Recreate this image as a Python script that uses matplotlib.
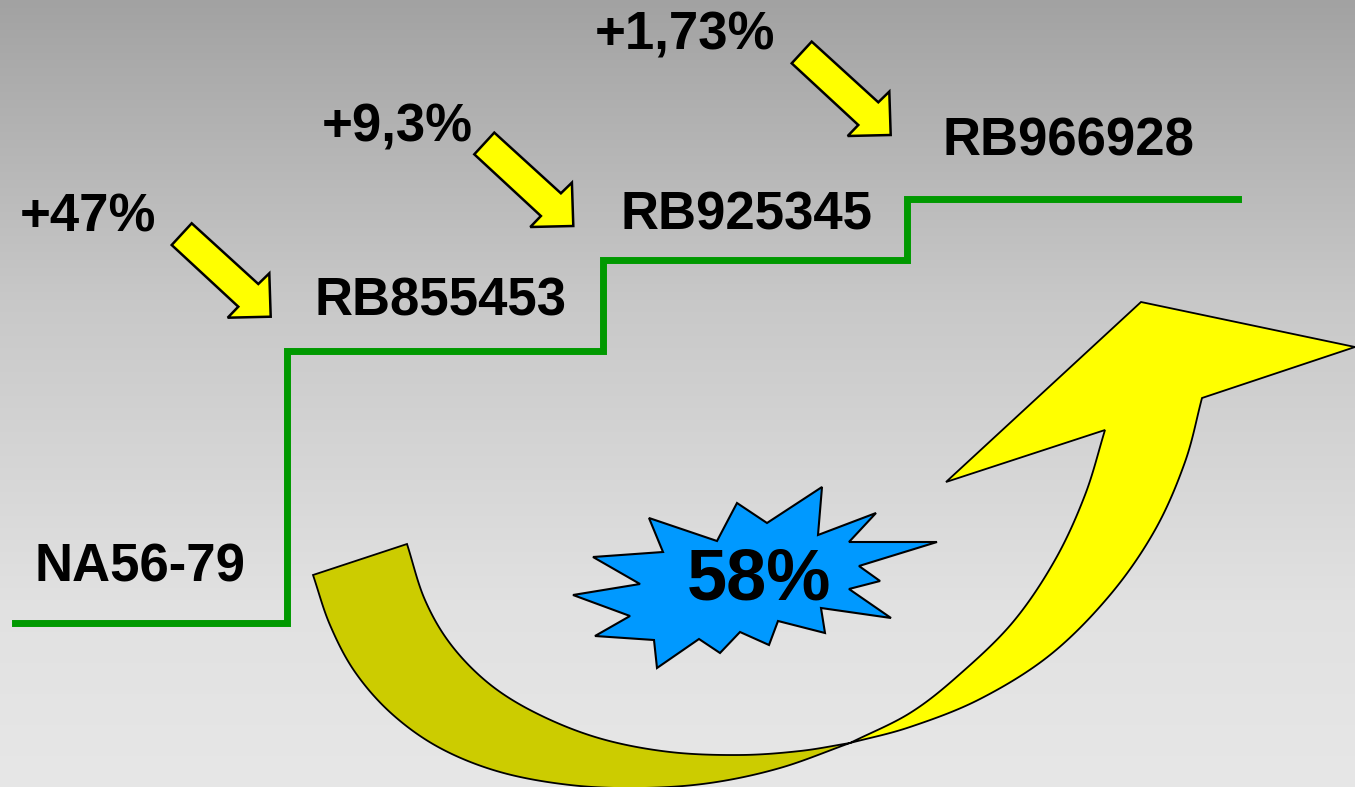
import numpy as np
import matplotlib.pyplot as plt
from matplotlib.patches import Polygon

# data
varieties = ["NA56-79", "RB855453", "RB925345", "RB966928"]
level = [1.64, 4.36, 5.27, 5.88]            # height of each step
step_edges = [0.15, 2.87, 6.03, 9.07, 12.38]
gains = ["+47%", "+9,3%", "+1,73%"]
total_gain = "58%"

W, H = 1355, 787
GREEN = "#009900"
YELLOW = "#ffff00"
OLIVE = "#cccc00"
BLUE = "#0099ff"
FONT = "Liberation Sans"


def P(x, y):
    # picture pixels -> axes units
    return (x / 100.0, (H - y) / 100.0)


def spline(pts, n=20):
    # catmull-rom through the points
    pts = np.asarray(pts, float)
    ext = np.vstack([2 * pts[0] - pts[1], pts, 2 * pts[-1] - pts[-2]])
    out = []
    for i in range(1, len(ext) - 2):
        p0, p1, p2, p3 = ext[i - 1], ext[i], ext[i + 1], ext[i + 2]
        for t in np.linspace(0, 1, n, endpoint=False):
            t2, t3 = t * t, t * t * t
            out.append(0.5 * (2 * p1 + (-p0 + p2) * t
                              + (2 * p0 - 5 * p1 + 4 * p2 - p3) * t2
                              + (-p0 + 3 * p1 - 3 * p2 + p3) * t3))
    out.append(pts[-1])
    return [P(x, y) for x, y in out]


fig = plt.figure(figsize=(W / 100, H / 100), dpi=100)
ax = fig.add_axes([0, 0, 1, 1])
ax.set_xlim(0, W / 100)
ax.set_ylim(0, H / 100)
ax.axis("off")

# grey gradient background
rows = np.arange(H)
grey = np.interp(rows, [0, 60, 300, 600, 787], [162, 170, 200, 225, 231]) / 255
bg = np.repeat(grey[:, None, None], 3, axis=2)
ax.imshow(bg, extent=(0, W / 100, 0, H / 100), aspect="auto", origin="upper", zorder=0)

# staircase
ax.plot(step_edges, level + [level[-1]], drawstyle="steps-post",
        color=GREEN, lw=5, solid_joinstyle="miter", zorder=2)

# variety labels
label_xy = [(140, 581), (441, 316), (746, 229), (1068, 156)]
for name, (x, y) in zip(varieties, label_xy):
    ax.text(*P(x, y), name, ha="center", va="baseline", fontsize=38,
            fontweight="bold", family=FONT, zorder=6)

# gain labels with small yellow arrows
gain_xy = [(88, 232), (397, 142), (685, 50)]
for g, (x, y) in zip(gains, gain_xy):
    ax.text(*P(x, y), g, ha="center", va="baseline", fontsize=38,
            fontweight="bold", family=FONT, zorder=6)

arrow_shape = [(-99, -71.7), (-79, -93.4), (-12.4, -32.7), (-1.4, -43.4),
               (0, 0), (-43, 1), (-32.4, -10)]
arrow_tips = [(270.7, 316.7), (573.3, 226), (890.7, 135)]
for tx, ty in arrow_tips:
    ax.add_patch(Polygon([P(tx + dx, ty + dy) for dx, dy in arrow_shape],
                         closed=True, fc=YELLOW, ec="black", lw=1.8,
                         joinstyle="miter", zorder=4))

# big curved ribbon arrow (twists at the crossing point)
cross = (850, 743)
tail_outer = [(313, 575), (330, 625), (355, 672), (392, 714), (440, 748),
              (500, 772), (570, 785), (640, 788), (710, 783), (780, 768), cross]
tail_inner = [(407, 544), (425, 600), (452, 646), (492, 686), (542, 716),
              (602, 739), (670, 752), (740, 755), (800, 751), cross]
front_low = [cross, (910, 727), (980, 699), (1050, 655), (1110, 595),
             (1155, 530), (1185, 462), (1202, 398)]
front_up = [cross, (910, 713), (960, 674), (1013, 622), (1055, 560),
            (1085, 495), (1105, 430)]
head = [(1355, 347), (1141, 302), (946, 482)]

back = spline(tail_outer) + spline(tail_inner)[::-1]
ax.add_patch(Polygon(back, closed=True, fc=OLIVE, ec="black", lw=1.3, zorder=3))
front = spline(front_low) + [P(*p) for p in head] + spline(front_up)[::-1]
ax.add_patch(Polygon(front, closed=True, fc=YELLOW, ec="black", lw=1.3,
                     joinstyle="miter", zorder=3))

# star burst
star = [(573, 595), (640, 584), (593, 557), (663, 552), (649, 518), (717, 541),
        (737, 503), (767, 523), (822, 487), (818, 535), (876, 513), (849, 542),
        (937, 542), (859, 566), (880, 581), (849, 589), (891, 618), (821, 608),
        (825, 633), (778, 621), (769, 645), (740, 632), (720, 653), (699, 639),
        (657, 668), (654, 640), (595, 636), (630, 616)]
ax.add_patch(Polygon([P(*p) for p in star], closed=True, fc=BLUE, ec="black",
                     lw=1.5, zorder=5))
ax.text(*P(759, 600), total_gain, ha="center", va="baseline", fontsize=52,
        fontweight="bold", family=FONT, zorder=6)

fig.savefig("out.png", dpi=100)
